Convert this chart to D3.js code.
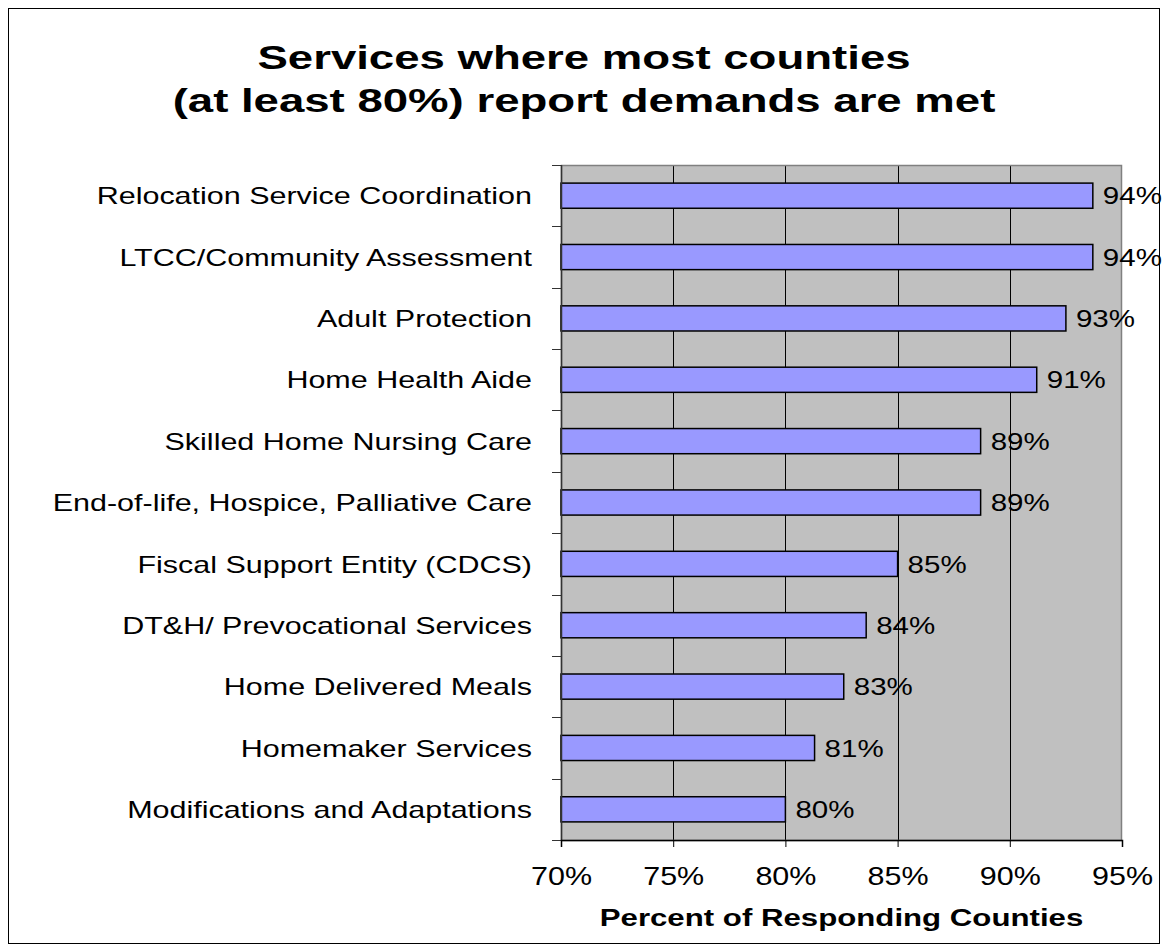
<!DOCTYPE html>
<html>
<head>
<meta charset="utf-8">
<script src="https://cdn.jsdelivr.net/npm/d3@7"></script>
<style>
  html, body { margin: 0; padding: 0; background: #fff; }
  svg { display: block; }
</style>
</head>
<body>
<svg id="chart" width="1168" height="952"></svg>
<script>
// Services and share of responding counties reporting demand is met
const services = [
  "Relocation Service Coordination",
  "LTCC/Community Assessment",
  "Adult Protection",
  "Home Health Aide",
  "Skilled Home Nursing Care",
  "End-of-life, Hospice, Palliative Care",
  "Fiscal Support Entity (CDCS)",
  "DT&H/ Prevocational Services",
  "Home Delivered Meals",
  "Homemaker Services",
  "Modifications and Adaptations"
];
const percentMet = [0.937, 0.937, 0.925, 0.912, 0.887, 0.887, 0.850, 0.836, 0.826, 0.813, 0.800];
const xTicks = [0.70, 0.75, 0.80, 0.85, 0.90, 0.95];
const titleLines = ["Services where most counties", "(at least 80%) report demands are met"];
const xAxisTitle = "Percent of Responding Counties";

const svg = d3.select("#chart");
const W = 1168, H = 952;
const font = "Arial, 'Liberation Sans', Helvetica, sans-serif";

// text drawn with a wide horizontal stretch
function placeText(sel, xf, yf, sx) {
  sel.attr("x", 0).attr("y", 0)
     .attr("transform", (d, i) => `translate(${xf(d, i)},${yf(d, i)}) scale(${sx},1)`);
}

// outer frame
svg.append("rect")
  .attr("x", 8.5).attr("y", 8.5)
  .attr("width", W - 17).attr("height", H - 17)
  .attr("fill", "#fff").attr("stroke", "#000").attr("stroke-width", 1);

// title
svg.append("g").selectAll("text")
  .data(titleLines)
  .join("text")
  .attr("text-anchor", "middle")
  .attr("font-family", font)
  .attr("font-weight", "bold")
  .attr("font-size", 34)
  .text(d => d)
  .call(placeText, () => 584, (d, i) => 69 + i * 43, 1.34);

const plot = { left: 561, right: 1122, top: 165, bottom: 840 };

const x = d3.scaleLinear().domain([0.70, 0.95]).range([plot.left, plot.right]);
const y = d3.scaleBand().domain(services).range([plot.top, plot.bottom]).paddingInner(0.59).paddingOuter(0.295);
const yBand = d3.scaleBand().domain(services).range([plot.top, plot.bottom]);

// plot background
svg.append("rect")
  .attr("x", plot.left).attr("y", plot.top)
  .attr("width", plot.right - plot.left).attr("height", plot.bottom - plot.top)
  .attr("fill", "#c0c0c0");

// vertical gridlines
svg.append("g").selectAll("line")
  .data(xTicks.slice(1, -1))
  .join("line")
  .attr("x1", d => Math.round(x(d)) + 0.5).attr("x2", d => Math.round(x(d)) + 0.5)
  .attr("y1", plot.top).attr("y2", plot.bottom)
  .attr("stroke", "#000").attr("stroke-width", 1);

// plot border (gray)
svg.append("rect")
  .attr("x", plot.left + 0.5).attr("y", plot.top + 0.5)
  .attr("width", plot.right - plot.left - 1).attr("height", plot.bottom - plot.top)
  .attr("fill", "none").attr("stroke", "#808080").attr("stroke-width", 1.5);

// bars
svg.append("g").selectAll("rect")
  .data(services)
  .join("rect")
  .attr("x", x(0.70))
  .attr("y", d => y(d))
  .attr("width", (d, i) => x(percentMet[i]) - x(0.70))
  .attr("height", y.bandwidth())
  .attr("fill", "#9999ff")
  .attr("stroke", "#000")
  .attr("stroke-width", 1.5);

// value labels
const pct = d3.format(".0%");
svg.append("g").selectAll("text")
  .data(services)
  .join("text")
  .attr("dy", "0.36em")
  .attr("font-family", font)
  .attr("font-size", 24)
  .text((d, i) => pct(percentMet[i]))
  .call(placeText, (d, i) => x(percentMet[i]) + 10, d => y(d) + y.bandwidth() / 2, 1.23);

// category axis (ticks at band boundaries)
const yAxisG = svg.append("g");
yAxisG.append("line")
  .attr("x1", plot.left + 0.5).attr("x2", plot.left + 0.5)
  .attr("y1", plot.top).attr("y2", plot.bottom)
  .attr("stroke", "#333").attr("stroke-width", 1.5);
yAxisG.selectAll("line.tick")
  .data(services.concat([null]))
  .join("line")
  .attr("class", "tick")
  .attr("x1", plot.left - 9).attr("x2", plot.left)
  .attr("y1", d => (d === null ? plot.bottom : Math.round(yBand(d))) + 0.5)
  .attr("y2", d => (d === null ? plot.bottom : Math.round(yBand(d))) + 0.5)
  .attr("stroke", "#333").attr("stroke-width", 1);
yAxisG.selectAll("text")
  .data(services)
  .join("text")
  .attr("dy", "0.36em")
  .attr("text-anchor", "end")
  .attr("font-family", font)
  .attr("font-size", 24)
  .text(d => d)
  .call(placeText, () => plot.left - 29, d => yBand(d) + yBand.bandwidth() / 2, 1.27);

// value axis
const xAxis = d3.axisBottom(x).tickValues(xTicks).tickFormat(d3.format(".0%")).tickSize(7).tickPadding(0);
const xg = svg.append("g")
  .attr("transform", `translate(0,${plot.bottom})`)
  .call(xAxis);
xg.select(".domain").attr("stroke", "#000").attr("stroke-width", 1.5);
xg.selectAll(".tick line").attr("stroke", "#000");
xg.selectAll(".tick text")
  .attr("font-family", font)
  .attr("font-size", 25)
  .attr("fill", "#000")
  .attr("dy", null)
  .call(placeText, () => 0, () => 45, 1.22);

// value axis title
svg.append("text")
  .attr("text-anchor", "middle")
  .attr("font-family", font)
  .attr("font-weight", "bold")
  .attr("font-size", 24)
  .text(xAxisTitle)
  .call(placeText, () => (plot.left + plot.right) / 2, () => 926, 1.3);
</script>
</body>
</html>
